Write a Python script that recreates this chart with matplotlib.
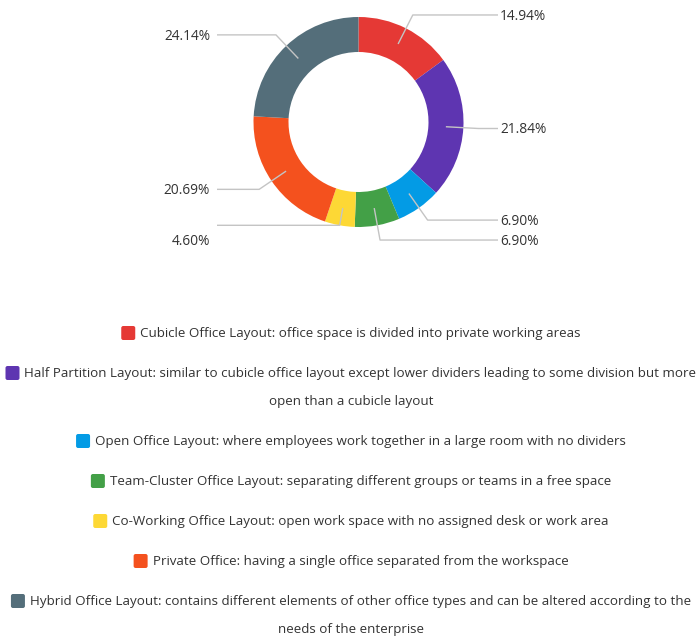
import matplotlib
matplotlib.use("Agg")
import matplotlib.pyplot as plt
import numpy as np
from matplotlib.patches import FancyBboxPatch

plt.rcParams['font.family'] = ['Open Sans', 'DejaVu Sans']

# Survey responses per office layout
categories = [
    "Cubicle Office Layout: office space is divided into private working areas",
    "Half Partition Layout: similar to cubicle office layout except lower dividers leading to some division but more open than a cubicle layout",
    "Open Office Layout: where employees work together in a large room with no dividers",
    "Team-Cluster Office Layout: separating different groups or teams in a free space",
    "Co-Working Office Layout: open work space with no assigned desk or work area",
    "Private Office: having a single office separated from the workspace",
    "Hybrid Office Layout: contains different elements of other office types and can be altered according to the needs of the enterprise",
]
counts = [13, 19, 6, 6, 4, 18, 21]
colors = ["#E53935", "#5E35B1", "#039BE5", "#43A047", "#FDD835", "#F4511E", "#546E7A"]

W, H = 696, 641
fig = plt.figure(figsize=(W / 100, H / 100), dpi=100)
ax = fig.add_axes([0, 0, 1, 1])

cx, cy = 358.5, H - 122
R_out, R_in = 105, 70
ax.pie(counts, colors=colors, startangle=90, counterclock=False,
       center=(cx, cy), radius=R_out,
       wedgeprops=dict(width=R_out - R_in, edgecolor="none", linewidth=0))
ax.set_xlim(0, W)
ax.set_ylim(0, H)
ax.set_aspect("equal")
ax.axis("off")

# Leader lines and percentage labels
total = sum(counts)
shares = [c / total * 100 for c in counts]
cum = np.cumsum([0] + shares[:-1])
elbow_r = [120, 120, 120, 120, 105, 120, 120]
label_dy = [0, 0, 0, 0, -15, 0, 0]
r_mid = (R_out + R_in) / 2
line_col = "#c4c4c4"
for i, s in enumerate(shares):
    ang = np.deg2rad((cum[i] + s / 2) * 3.6)
    sx, sy = cx + r_mid * np.sin(ang), cy + r_mid * np.cos(ang)
    ex, ey = cx + elbow_r[i] * np.sin(ang), cy + elbow_r[i] * np.cos(ang)
    right = np.sin(ang) > 0
    endx = 498 if right else 217
    ax.plot([sx, ex, endx], [sy, ey, ey], color=line_col, lw=1, solid_capstyle="butt")
    tx = 500 if right else 210
    ax.text(tx, ey + label_dy[i] - 1.5, f"{s:.2f}%", ha="left" if right else "right",
            va="center", fontsize=9.9, color="#333333")

# Legend rows, centred, wrapping long descriptions
fig.canvas.draw()
renderer = fig.canvas.get_renderer()
fs = 9.65
max_w = 692
box = 14
gap = 5
y = H - 333
center_x = 351

def text_width(s):
    t = ax.text(0, 0, s, fontsize=fs)
    w = t.get_window_extent(renderer).width
    t.remove()
    return w

for lab, col in zip(categories, colors):
    words = lab.split(" ")
    lines = []
    cur = ""
    for w_ in words:
        trial = (cur + " " + w_).strip()
        extra = box + gap if not lines else 0
        if text_width(trial) + extra > max_w and cur:
            lines.append(cur)
            cur = w_
        else:
            cur = trial
    lines.append(cur)
    for j, ln in enumerate(lines):
        tw = text_width(ln)
        if j == 0:
            gw = box + gap + tw
            x0 = center_x - gw / 2
            ax.add_patch(FancyBboxPatch((x0 + 2, y - box / 2 + 2), box - 4, box - 4,
                                        boxstyle="round,pad=2", facecolor=col,
                                        edgecolor="none"))
            ax.text(x0 + box + gap, y, ln, fontsize=fs, color="#333333",
                    ha="left", va="center")
        else:
            ax.text(center_x, y, ln, fontsize=fs, color="#333333",
                    ha="center", va="center")
        y -= 28 if j < len(lines) - 1 else 0
    y -= 40

fig.savefig("out.png", dpi=100, facecolor="white")
